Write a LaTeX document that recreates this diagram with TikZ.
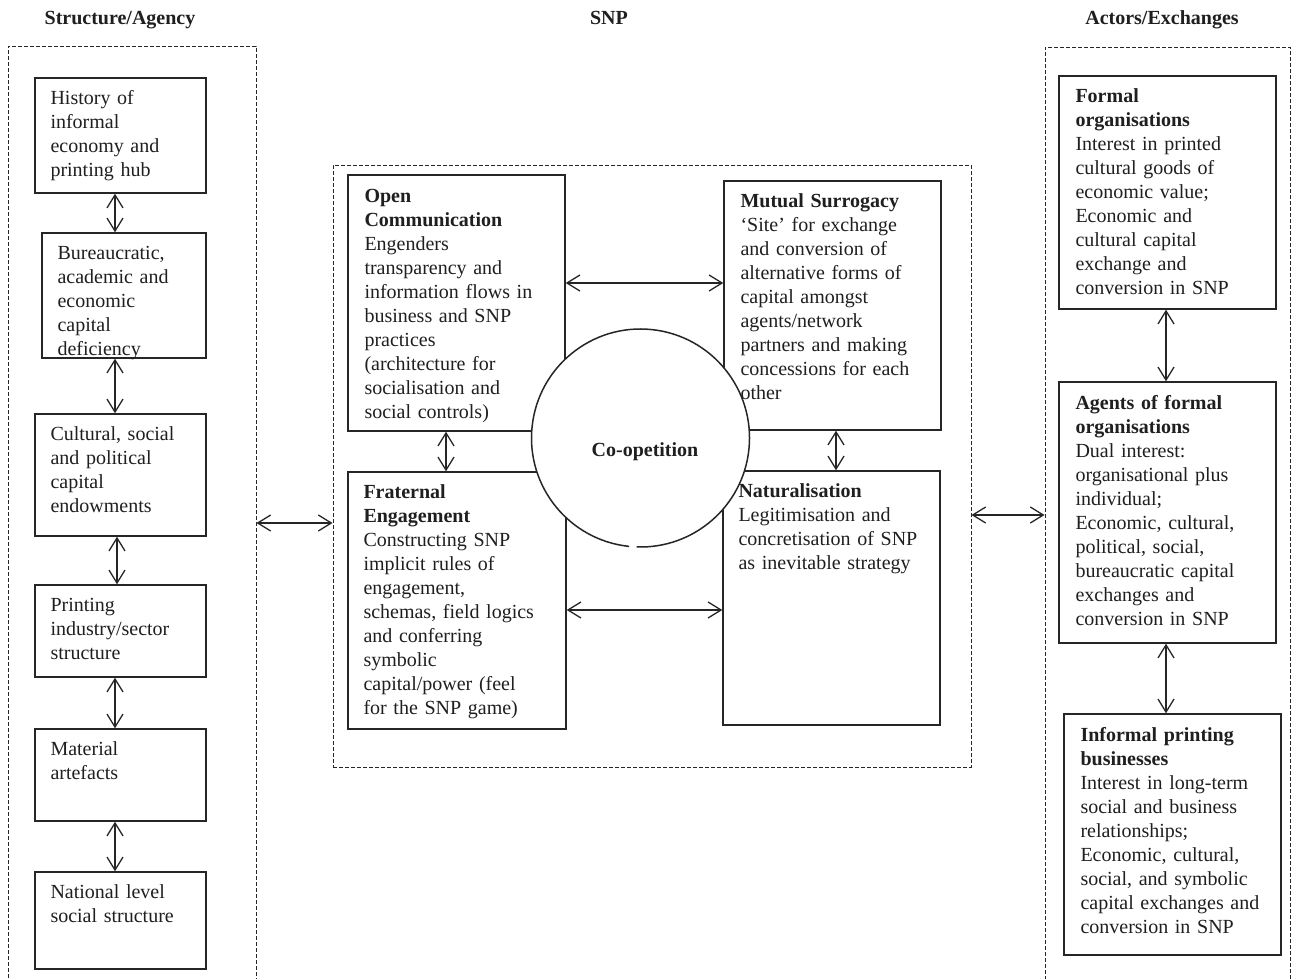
\documentclass[tikz,border=0pt]{standalone}
\usepackage{fontspec}
\setmainfont{Liberation Serif}
\usetikzlibrary{arrows.meta,fit,calc}
\tikzset{
  box/.style={draw=black!85, line width=1.4pt, inner sep=0pt},
  dbox/.style={draw=black!85, line width=0.9pt, dash pattern=on 4pt off 2pt, inner sep=0pt},
  txt/.style={anchor=base west, inner sep=0pt, align=left, text width=250pt, text=black!88},
  dbl/.style={draw=black!85, line width=1.3pt, {Straight Barb[length=13pt,width=16pt]}-{Straight Barb[length=13pt,width=16pt]}},
  hdr/.style={font=\fontsize{20}{24}\selectfont\bfseries, anchor=base, inner sep=0pt, text=black!88}
}
\begin{document}
\begin{tikzpicture}[x=1pt, y=-1pt, font=\fontsize{20}{24}\selectfont]
\useasboundingbox (0,0) rectangle (1293,979);
\clip (0,0) rectangle (1293,979);
\fill[white] (0,0) rectangle (1293,979);

% headers
\node[hdr] (h1) at (120,25) {Structure/Agency};
\node[hdr] (h2) at (609,25) {SNP};
\node[hdr] (h3) at (1162,25) {Actors/Exchanges};

% dashed frames
\node[dbox, fit={(8,46) (256,1010)}] (lf) {};
\node[dbox, fit={(333,165) (971,767)}] (cf) {};
\node[dbox, fit={(1045,47) (1290,1010)}] (rf) {};

% left boxes
\node[box, fit={(35,78) (206,193)}] (l1) {};
\node[box, fit={(42,233) (206,358)}] (l2) {};
\node[box, fit={(35,414) (206,536)}] (l3) {};
\node[box, fit={(35,585) (206,677)}] (l4) {};
\node[box, fit={(35,729) (206,821)}] (l5) {};
\node[box, fit={(35,872) (206,969)}] (l6) {};

% centre boxes
\node[box, fit={(348,175) (565,431)}] (oc) {};
\node[box, fit={(724,181) (941,430)}] (ms) {};
\node[box, fit={(348,472) (566,729)}] (fe) {};
\node[box, fit={(723,471) (940,725)}] (nat) {};

% right boxes
\node[box, fit={(1059,76) (1276,309)}] (r1) {};
\node[box, fit={(1059,382) (1276,643)}] (r2) {};
\node[box, fit={(1064,714) (1281,955)}] (r3) {};

% co-opetition circle
\node[circle, fill=white, minimum size=218pt, inner sep=0pt] (coopc) at (640.5,438) {};
\draw[line width=1.5pt, black!85] ($(coopc.center)+(96:109)$) arc[start angle=96, end angle=452, radius=109];
\node[font=\fontsize{20}{24}\selectfont\bfseries, text=black!88, inner sep=0pt] (coop) at (645,452) {Co-opetition};

% left texts
\node[txt] (t1) at ([shift={(16,27)}]l1.north west) {History of\\informal\\economy and\\printing hub};
\node[txt] (t2) at ([shift={(16,27)}]l2.north west) {Bureaucratic,\\academic and\\economic\\capital\\deficiency};
\node[txt] (t3) at ([shift={(16,27)}]l3.north west) {Cultural, social\\and political\\capital\\endowments};
\node[txt] (t4) at ([shift={(16,27)}]l4.north west) {Printing\\industry/sector\\structure};
\node[txt] (t5) at ([shift={(16,27)}]l5.north west) {Material\\artefacts};
\node[txt] (t6) at ([shift={(16,27)}]l6.north west) {National level\\social structure};

% centre texts
\node[txt] (toc) at ([shift={(17,28)}]oc.north west) {\textbf{Open}\\\textbf{Communication}\\Engenders\\transparency and\\information flows in\\business and SNP\\practices\\(architecture for\\socialisation and\\social controls)};
\node[txt] (tms) at ([shift={(17,27)}]ms.north west) {\textbf{Mutual Surrogacy}\\‘Site’ for exchange\\and conversion of\\alternative forms of\\capital amongst\\agents/network\\partners and making\\concessions for each\\other};
\node[txt] (tfe) at ([shift={(16,27)}]fe.north west) {\textbf{Fraternal}\\\textbf{Engagement}\\Constructing SNP\\implicit rules of\\engagement,\\schemas, field logics\\and conferring\\symbolic\\capital/power (feel\\for the SNP game)};
\node[txt] (tnat) at ([shift={(16,27)}]nat.north west) {\textbf{Naturalisation}\\Legitimisation and\\concretisation of SNP\\as inevitable strategy};

% right texts
\node[txt] (tr1) at ([shift={(17,27)}]r1.north west) {\textbf{Formal}\\\textbf{organisations}\\Interest in printed\\cultural goods of\\economic value;\\Economic and\\cultural capital\\exchange and\\conversion in SNP};
\node[txt] (tr2) at ([shift={(17,28)}]r2.north west) {\textbf{Agents of formal}\\\textbf{organisations}\\Dual interest:\\organisational plus\\individual;\\Economic, cultural,\\political, social,\\bureaucratic capital\\exchanges and\\conversion in SNP};
\node[txt] (tr3) at ([shift={(17,28)}]r3.north west) {\textbf{Informal printing}\\\textbf{businesses}\\Interest in long-term\\social and business\\relationships;\\Economic, cultural,\\social, and symbolic\\capital exchanges and\\conversion in SNP};

% connector helper coordinates
\coordinate (lx) at (115,0);
\coordinate (lx2) at (117,0);
\coordinate (rx) at (1166,0);
\coordinate (cxl) at (446,0);
\coordinate (cxr) at (836,0);
\coordinate (ya) at (0,523);
\coordinate (yb) at (0,515);
\coordinate (yc) at (0,283);
\coordinate (yd) at (0,610);

% left column arrows
\draw[dbl] (l1.south -| lx) -- (l2.north -| lx);
\draw[dbl] (l2.south -| lx) -- (l3.north -| lx);
\draw[dbl] (l3.south -| lx2) -- (l4.north -| lx2);
\draw[dbl] (l4.south -| lx) -- (l5.north -| lx);
\draw[dbl] (l5.south -| lx) -- (l6.north -| lx);

% frame arrows
\draw[dbl] (lf.east |- ya) -- (cf.west |- ya);
\draw[dbl] (cf.east |- yb) -- (rf.west |- yb);

% centre arrows
\draw[dbl] (oc.east |- yc) -- (ms.west |- yc);
\draw[dbl] (oc.south -| cxl) -- (fe.north -| cxl);
\draw[dbl] (ms.south -| cxr) -- (nat.north -| cxr);
\draw[dbl] (fe.east |- yd) -- (nat.west |- yd);

% right arrows
\draw[dbl] (r1.south -| rx) -- (r2.north -| rx);
\draw[dbl] (r2.south -| rx) -- (r3.north -| rx);
\end{tikzpicture}
\end{document}
